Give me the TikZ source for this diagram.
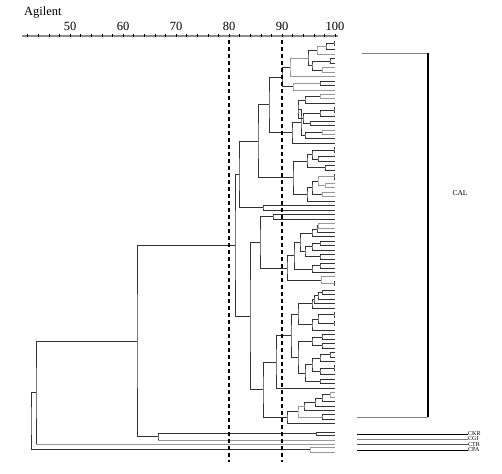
\documentclass[tikz,border=0pt]{standalone}
\usepackage{fontspec}
\setmainfont{Liberation Serif}
\usetikzlibrary{calc}

% one clade: name, x, upper child, lower child
\newcommand{\dclade}[5][]{%
  \path ($(#4)!0.5!(#5)$) coordinate (#2m);
  \coordinate (#2) at (#3,0 |- #2m);
  \draw[branch,#1] (#4) -| (#2) |- (#5);}

\begin{document}
\begin{tikzpicture}[
    x=1pt, y=-1pt,
    branch/.style={draw=black!80, line width=0.8pt},
    pale/.style={draw=black!40},
    cut/.style={line width=1.3pt, dash pattern=on 4pt off 3pt},
    scalelbl/.style={font=\fontsize{12.5}{14}\selectfont, anchor=base},
    grouplbl/.style={font=\fontsize{6}{6}\selectfont, anchor=west, inner sep=0pt}
]
    \useasboundingbox (0,0) rectangle (502,473);

    % Axis
    \node[font=\fontsize{12.5}{14}\selectfont, anchor=base west, inner sep=0pt] (title) at (24,16) {Agilent};
    \draw[line width=2.4pt, black!45] (22,36) -- (338,36);
    \foreach \v in {42,44,...,100} {
        \pgfmathsetmacro\xx{335-(100-\v)*5.3}
        \draw[line width=0.6pt] (\xx,34.5) -- (\xx,37.5);
    }
    \foreach \v in {50,60,...,100} {
        \pgfmathsetmacro\xx{335-(100-\v)*5.3}
        \node[scalelbl] (lbl\v) at (\xx,31) {\v};
    }

    % Leaves
    \foreach \i in {0,...,86}
        \coordinate (L\i) at (335,41+4.45*\i);

    % CAL, upper part
    \dclade{a1}{334}{L0}{L1}
    \dclade{a2}{326}{a1}{L2}
    \dclade[pale]{a3}{317}{a2}{L3}
    \dclade{a4}{330}{L4}{L5}
    \dclade[pale]{a5}{322}{L6}{L7}
    \dclade{a6}{312}{a4}{a5}
    \dclade{a7}{308}{a3}{a6}
    \dclade[pale]{A1a}{290}{a7}{L8}
    \dclade{b1}{320}{L9}{L10}
    \dclade[pale]{b0}{293}{b1}{L11}
    \dclade{A1t}{282}{A1a}{b0}
    \dclade[pale]{c1}{320}{L12}{L13}
    \dclade{c2}{305}{c1}{L14}
    \dclade{c3}{334}{L15}{L16}
    \dclade{c4}{320}{c3}{L17}
    \dclade{c5}{310}{L18}{L19}
    \dclade{c6}{303}{c4}{c5}
    \dclade{c7}{298}{c2}{c6}
    \dclade[pale]{c8}{322}{L20}{L21}
    \dclade{c9}{305}{c8}{L22}
    \dclade{c10}{301}{c7}{c9}
    \dclade{A1b}{292}{c10}{L23}
    \dclade{A1}{269}{A1t}{A1b}
    \dclade{d1}{334}{L24}{L25}
    \dclade{d2}{318}{L26}{L27}
    \dclade{d3}{312}{d1}{d2}
    \dclade{d4}{325}{L28}{L29}
    \dclade{d5}{307}{d3}{d4}
    \dclade{d6}{334}{L30}{L31}
    \dclade[pale]{d7}{325}{L32}{L33}
    \dclade[pale]{d8}{318}{d6}{d7}
    \dclade[pale]{d9}{322}{L34}{L35}
    \dclade{d10}{312}{d8}{d9}
    \dclade{d11}{307}{d10}{L36}
    \dclade{A2}{293}{d5}{d11}
    \dclade{A}{258}{A1}{A2}
    \dclade{P}{263}{L37}{L38}
    \dclade{B}{239}{A}{P}

    % CAL, lower part
    \dclade{D0}{273}{L39}{L40}
    \dclade[pale]{e1}{318}{L41}{L42}
    \dclade{e2}{317}{e1}{L43}
    \dclade{e3}{312}{e2}{L44}
    \dclade{e4}{320}{L45}{L46}
    \dclade{e5}{312}{e4}{L47}
    \dclade{e6}{320}{L48}{L49}
    \dclade{e7}{305}{e5}{e6}
    \dclade{E1a}{300}{e3}{e7}
    \dclade{e8}{320}{L50}{L51}
    \dclade{e9}{312}{e8}{L52}
    \dclade{E1}{294}{E1a}{e9}
    \dclade{E2p}{334}{L54}{L55}
    \dclade[pale]{E2}{321}{L53}{E2p}
    \dclade{E}{287}{E1}{E2}
    \dclade{D}{260}{D0}{E}
    \dclade{f1}{322}{L56}{L57}
    \dclade{f2}{318}{f1}{L58}
    \dclade{f3}{314}{f2}{L59}
    \dclade{f4}{312}{f3}{L60}
    \dclade{f5}{334}{L61}{L62}
    \dclade{f6}{334}{L63}{L64}
    \dclade{f7}{318}{f5}{f6}
    \dclade{f8}{312}{f7}{L65}
    \dclade{G1a}{298}{f4}{f8}
    \dclade{f10}{322}{L66}{L67}
    \dclade{f11}{322}{L68}{L69}
    \dclade{f12}{312}{f10}{f11}
    \dclade{f13}{330}{L70}{L71}
    \dclade{f14}{320}{f13}{L72}
    \dclade{f15}{334}{L73}{L74}
    \dclade{f16}{320}{f15}{L75}
    \dclade{f17}{312}{f14}{f16}
    \dclade{f18}{320}{L76}{L77}
    \dclade{G1bb}{305}{f17}{f18}
    \dclade{G1b}{298}{f12}{G1bb}
    \dclade{G1}{291}{G1a}{G1b}
    \dclade{G}{276}{G1}{L78}
    \dclade[pale]{h1}{330}{L79}{L80}
    \dclade{h2}{322}{h1}{L81}
    \dclade{h3}{315}{h2}{L82}
    \dclade{h4}{304}{h3}{L83}
    \dclade{h5}{322}{L84}{L85}
    \dclade[pale]{h6}{298}{h4}{h5}
    \dclade{H}{287}{h6}{L86}
    \dclade{F}{263}{G}{H}
    \dclade{C}{250}{D}{F}
    \dclade{CAL}{235}{B}{C}

    % Outgroups
    \coordinate (k1) at (335,432);
    \coordinate (k2) at (335,435.5);
    \coordinate (kg) at (335,440);
    \coordinate (t1) at (335,444);
    \coordinate (p1) at (335,447.5);
    \coordinate (p2) at (335,452);
    \dclade{K1}{316}{k1}{k2}
    \dclade{K}{158}{K1}{kg}
    \dclade{N2}{137}{CAL}{K}
    \dclade{N1}{36}{N2}{t1}
    \dclade[pale]{Pa}{310}{p1}{p2}
    \dclade{R}{31}{N1}{Pa}
    \draw[branch, pale] (K |- kg) -- (kg);
    \draw[branch, pale] (N1 |- t1) -- (t1);

    % Cut-off lines
    \draw[cut] (229,40) coordinate (c80t) -- (229,462) coordinate (c80b);
    \draw[cut] (282,40) coordinate (c90t) -- (282,462) coordinate (c90b);

    % Groups
    \coordinate (calt) at (428,53);
    \coordinate (calb) at (428,417);
    \draw[black!50, line width=0.6pt] (362,53) -- (calt);
    \draw[black!50, line width=0.6pt] (357,417) -- (calb);
    \draw[line width=1.2pt] (calt) -- (calb);
    \node[font=\fontsize{7.5}{8}\selectfont] (cal) at (460,193) {CAL};

    \node[grouplbl] (ckr) at (468,433.5) {CKR};
    \node[grouplbl] (cgi) at (468,438.8) {CGI};
    \node[grouplbl] (ctr) at (468,444.2) {CTR};
    \node[grouplbl] (cpa) at (468,449.6) {CPA};
    \draw[line width=0.9pt] (357,434) -- (ckr.west |- 0,434);
    \draw[line width=0.9pt, black!50] (357,439.3) -- (cgi.west |- 0,439.3);
    \draw[line width=0.9pt, black!70] (357,444.3) -- (ctr.west |- 0,444.3);
    \draw[line width=0.9pt] (357,450.3) -- (cpa.west |- 0,450.3);
\end{tikzpicture}
\end{document}
